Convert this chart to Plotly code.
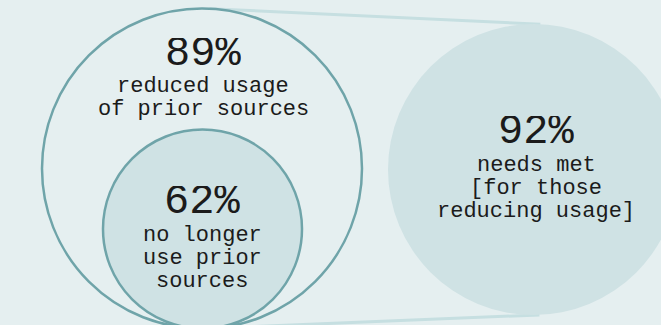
import math
import plotly.graph_objects as go

# ---- data ----
percent_values = [89, 62, 92]
label_lines = [
    ["reduced usage", "of prior sources"],
    ["no longer", "use prior", "sources"],
    ["needs met", "[for those", "reducing usage]"],
]

# ---- layout constants (pixel space) ----
W, H = 661, 325
BG = "#e5eff0"
FILL = "#cfe2e4"
STROKE = "#6fa4a9"
LINK = "#c6dfe1"
FONT = "Liberation Mono"
TEXT = "#1b1b1b"

outer = dict(cx=202, cy=168.5, r=160)
inner = dict(cx=202.5, cy=229, r=99.5)
right = dict(cx=533.5, cy=169.5, r=145.5)

# text anchors: (x center, big-number center y, first label baseline y)
anchors = [(203, 51, 92), (202, 199.5, 240.5), (536, 129.5, 170.5)]
NUM_SIZE = 42
LBL_SIZE = 22
LINE_GAP = 23
NUM_SHIFT = 0.064 * NUM_SIZE   # box centre vs digit centre
LBL_SHIFT = 0.2665 * LBL_SIZE  # baseline vs box centre

fig = go.Figure()
shapes = []

# external tangent lines between outer circle and right circle
dx = right["cx"] - outer["cx"]
dy = right["cy"] - outer["cy"]
d = math.hypot(dx, dy)
ux, uy = dx / d, dy / d
c = (outer["r"] - right["r"]) / d
h = math.sqrt(1 - c * c)
for sgn in (1, -1):
    nx = c * ux - sgn * h * uy
    ny = c * uy + sgn * h * ux
    x0 = outer["cx"] + outer["r"] * nx
    y0 = outer["cy"] + outer["r"] * ny
    x1 = right["cx"] + right["r"] * nx
    y1 = right["cy"] + right["r"] * ny
    shapes.append(dict(type="line", x0=x0, y0=y0, x1=x1, y1=y1,
                       line=dict(color=LINK, width=3), layer="below"))


def circ(cd, fill, line_color, width):
    return dict(type="circle", x0=cd["cx"] - cd["r"], x1=cd["cx"] + cd["r"],
                y0=cd["cy"] - cd["r"], y1=cd["cy"] + cd["r"],
                fillcolor=fill, line=dict(color=line_color, width=width),
                layer="below")


shapes.append(circ(right, FILL, "rgba(0,0,0,0)", 0))
shapes.append(circ(outer, BG, STROKE, 2.5))
shapes.append(circ(inner, FILL, STROKE, 2.5))

annotations = []
for (ax, ay, by), val, lines in zip(anchors, percent_values, label_lines):
    annotations.append(dict(x=ax, y=ay + NUM_SHIFT, text=f"{val}%", showarrow=False,
                            xanchor="center", yanchor="middle", height=32,
                            font=dict(family=FONT, size=NUM_SIZE, color=TEXT)))
    for i, ln in enumerate(lines):
        base = by + i * LINE_GAP
        annotations.append(dict(x=ax, y=base - LBL_SHIFT, text=ln,
                                showarrow=False, xanchor="center", yanchor="middle",
                                height=22,
                                font=dict(family=FONT, size=LBL_SIZE, color=TEXT)))

fig.update_layout(
    width=W, height=H,
    margin=dict(l=0, r=0, t=0, b=0),
    paper_bgcolor=BG, plot_bgcolor=BG,
    shapes=shapes, annotations=annotations,
    showlegend=False,
    xaxis=dict(range=[0, W], visible=False, fixedrange=True),
    yaxis=dict(range=[H, 0], visible=False, fixedrange=True),
)

fig.write_html("out.html", config={"displayModeBar": False},
               post_script="document.body.style.margin='0';document.body.style.background='" + BG + "';")
